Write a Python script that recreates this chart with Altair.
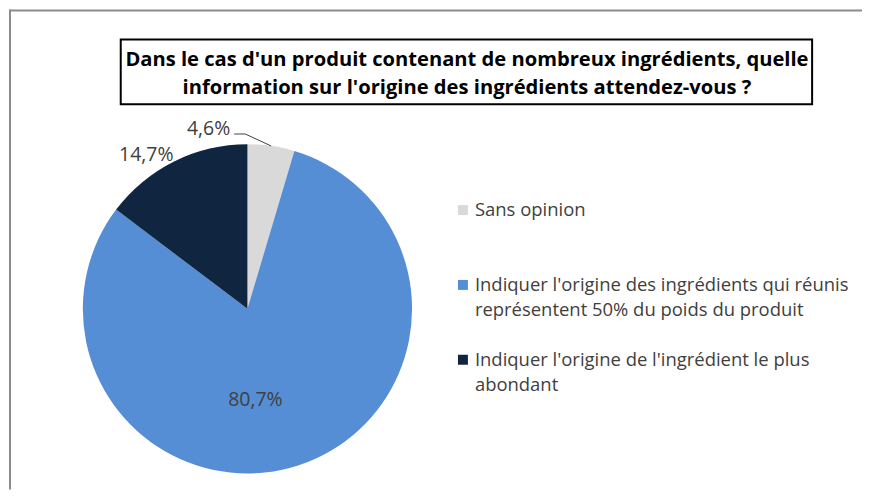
import altair as alt
import pandas as pd

# ---- data ----
categories = [
    "Sans opinion",
    "Indiquer l'origine des ingrédients qui réunis représentent 50% du poids du produit",
    "Indiquer l'origine de l'ingrédient le plus abondant",
]
values = [4.6, 80.7, 14.7]
colors = ["#D9D9D9", "#558ED5", "#10253F"]
legend_labels = [
    "Sans opinion",
    "Indiquer l'origine des ingrédients qui réunis\nreprésentent 50% du poids du produit",
    "Indiquer l'origine de l'ingrédient le plus\nabondant",
]
title_lines = [
    "Dans le cas d'un produit contenant de nombreux ingrédients, quelle",
    "information sur l'origine des ingrédients attendez-vous ?",
]

FONT = "Open Sans"
LABEL_COLOR = "#404040"
LABEL_SIZE = 19.5
CX, CY, R = 239, 300, 165

df = pd.DataFrame({"cat": categories, "v": values})
leg_df = pd.DataFrame({"cat": categories, "lab": legend_labels})

base = (
    alt.Chart(df)
    .transform_window(idx="row_number()")
    .transform_joinaggregate(total="sum(v)")
    .transform_window(cum="sum(v)", sort=[alt.SortField("idx", order="ascending")], frame=[None, 0])
    .transform_calculate(
        mid="2*PI*(datum.cum - datum.v/2)/datum.total",
        txt="replace(format(datum.v, '.1f'), '.', ',') + '%'",
    )
)

color_scale = alt.Scale(domain=categories, range=colors)

pie = base.mark_arc(radius=R).encode(
    theta=alt.Theta("v:Q", stack=True),
    order=alt.Order("idx:Q"),
    color=alt.Color("cat:N", scale=color_scale, legend=None),
    x=alt.value(CX),
    y=alt.value(CY),
)


def label_layer(cat, r, dx, dy, align="center"):
    return (
        base.transform_filter(alt.datum.cat == cat)
        .transform_calculate(
            lx=f"{CX} + {r}*sin(datum.mid)",
            ly=f"{CY} - {r}*cos(datum.mid)",
        )
        .mark_text(font=FONT, fontSize=LABEL_SIZE, color=LABEL_COLOR, align=align,
                   baseline="middle", dx=dx, dy=dy)
        .encode(
            x=alt.X("lx:Q", scale=None),
            y=alt.Y("ly:Q", scale=None),
            text="txt:N",
        )
    )


# leader line for the small slice
leader_base = base.transform_filter(alt.datum.cat == categories[0]).transform_calculate(
    xe=f"{CX} + {R}*sin(datum.mid)",
    ye=f"{CY} - {R}*cos(datum.mid)",
).transform_calculate(
    xb="datum.xe - 26",
    yb="datum.ye - 12",
).transform_calculate(
    xs="datum.xb - 11",
)
leader1 = leader_base.mark_rule(color="#404040", strokeWidth=1).encode(
    x=alt.X("xe:Q", scale=None), x2="xb:Q",
    y=alt.Y("ye:Q", scale=None), y2="yb:Q",
)
leader2 = leader_base.mark_rule(color="#404040", strokeWidth=1).encode(
    x=alt.X("xs:Q", scale=None), x2="xb:Q",
    y=alt.Y("yb:Q", scale=None),
)
small_label = leader_base.mark_text(
    font=FONT, fontSize=LABEL_SIZE, color=LABEL_COLOR, align="right", baseline="middle", dx=-4, dy=-5
).encode(
    x=alt.X("xs:Q", scale=None),
    y=alt.Y("yb:Q", scale=None),
    text="txt:N",
)

lab_big = label_layer(categories[1], 96, -22, 0)
lab_dark = label_layer(categories[2], 185, -19, 11)

# legend (manual)
leg_y = alt.Y("cat:N", scale=alt.Scale(domain=categories, range=[201, 351], padding=0), axis=None)
leg_sym = alt.Chart(leg_df).mark_square(size=100, opacity=1).encode(
    x=alt.value(455),
    y=leg_y,
    color=alt.Color("cat:N", scale=color_scale, legend=None),
)
leg_txt = alt.Chart(leg_df).mark_text(
    font=FONT, fontSize=18.5, color=LABEL_COLOR, align="left", baseline="alphabetic",
    dy=6, lineBreak="\n", lineHeight=25,
).encode(
    x=alt.value(467),
    y=leg_y,
    text="lab:N",
)

# title box
one = pd.DataFrame({"a": [0]})
box = alt.Chart(one).mark_rect(filled=False, stroke="black", strokeWidth=2).encode(
    x=alt.value(112), x2=alt.value(805), y=alt.value(30), y2=alt.value(95)
)
title_txt = alt.Chart(pd.DataFrame({"t": ["\n".join(title_lines)]})).mark_text(
    font=FONT, fontSize=20.2, fontWeight="bold", color="black", align="center",
    baseline="alphabetic", lineBreak="\n", lineHeight=28,
).encode(x=alt.value(459), y=alt.value(57), text="t:N")

# outer frame (top and left edges visible)
frame_top = alt.Chart(one).mark_rule(color="#8C8C8C", strokeWidth=2).encode(
    x=alt.value(0), x2=alt.value(855), y=alt.value(1)
)
frame_left = alt.Chart(one).mark_rule(color="#8C8C8C", strokeWidth=2).encode(
    x=alt.value(1), y=alt.value(0), y2=alt.value(481)
)

chart = (
    alt.layer(pie, leader1, leader2, small_label, lab_big, lab_dark,
              leg_sym, leg_txt, box, title_txt, frame_top, frame_left)
    .resolve_scale(y="independent")
    .properties(width=855, height=481, padding=0)
    .configure_view(stroke=None)
)

chart.save("out.html", embed_options={"renderer": "svg", "actions": False})
